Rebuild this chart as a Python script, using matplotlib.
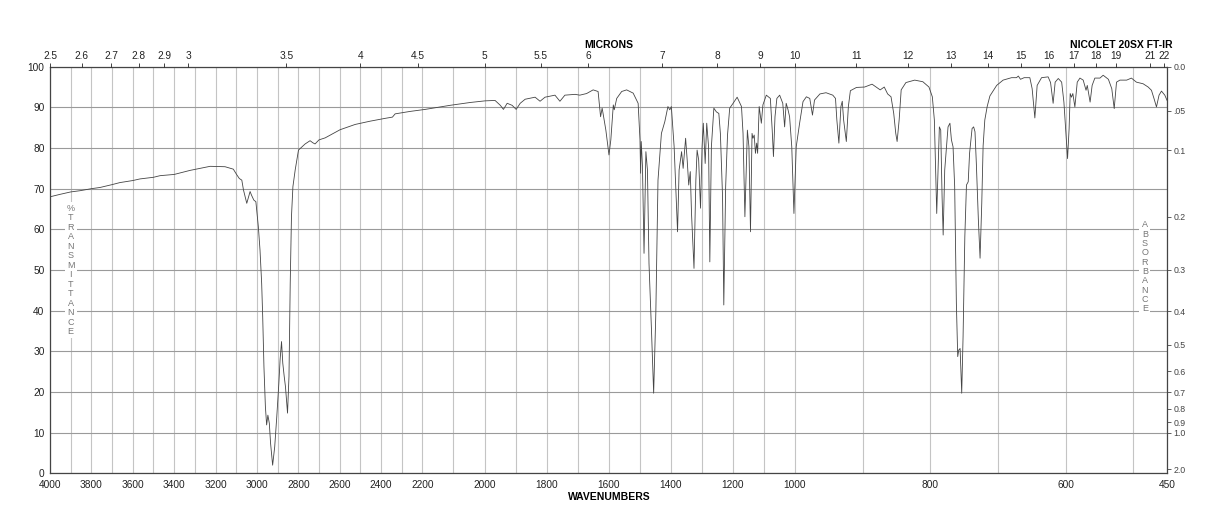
import numpy as np
import matplotlib
matplotlib.use("Agg")
import matplotlib.pyplot as plt

# Spektrum adatai (hullámszám cm-1, transzmittancia %)
wavenumbers = [
    4000, 3952, 3900, 3855, 3800, 3758, 3700, 3662, 3600, 3565, 3500, 3468, 3400, 3323, 3275, 3226,
    3154, 3114, 3097, 3085, 3073, 3065, 3049, 3033, 3026, 3015, 3005, 2993, 2985, 2977, 2972, 2966,
    2959, 2953, 2947, 2940, 2934, 2924, 2914, 2904, 2894, 2888, 2881, 2875, 2868, 2862, 2852, 2845,
    2839, 2833, 2826, 2815, 2799, 2767, 2743, 2730, 2719, 2700, 2670, 2598, 2525, 2453, 2380, 2345,
    2332, 2260, 2191, 2111, 2046, 1998, 1966, 1949, 1939, 1927, 1911, 1898, 1885, 1869, 1837, 1821,
    1805, 1773, 1757, 1741, 1708, 1693, 1671, 1650, 1634, 1626, 1621, 1618, 1609, 1599, 1593, 1585,
    1582, 1574, 1558, 1542, 1521, 1505, 1499, 1497, 1495, 1491, 1486, 1480, 1475, 1470, 1462, 1455,
    1448, 1441, 1430, 1419, 1409, 1403, 1398, 1389, 1378, 1373, 1365, 1360, 1352, 1347, 1342, 1337,
    1333, 1325, 1319, 1315, 1310, 1304, 1299, 1295, 1289, 1284, 1278, 1274, 1269, 1261, 1253, 1245,
    1240, 1233, 1229, 1223, 1217, 1210, 1199, 1186, 1172, 1167, 1161, 1153, 1148, 1143, 1138, 1135,
    1131, 1127, 1123, 1120, 1115, 1112, 1108, 1103, 1092, 1079, 1073, 1069, 1064, 1058, 1049, 1039,
    1033, 1028, 1022, 1017, 1010, 1003, 998, 993, 988, 983, 978, 974, 971, 963, 954, 944,
    940, 938, 935, 932, 930, 928, 924, 921, 918, 909, 897, 886, 879, 874, 868, 863,
    858, 854, 851, 849, 846, 843, 836, 823, 811, 802, 797, 794, 792.4, 790.5, 788.6, 786.6,
    784.6, 782.6, 781, 778.7, 776, 773.8, 771, 768.8, 766.4, 764, 761.5, 759.5, 758, 756, 753.6, 751.6,
    749, 746.6, 744, 742, 738.3, 736, 734, 732, 729, 726.5, 724, 722, 719.5, 716, 712, 702,
    692.5, 680, 672.7, 670, 666.8, 661.4, 653, 649.6, 645.6, 642.2, 635.7, 626, 622.4, 618.6, 615.6, 611,
    606, 602.7, 600.2, 597.3, 595, 593.4, 591.5, 589.5, 586.5, 583, 579, 574.2, 570, 568.2, 564, 561,
    557, 549.5, 544.7, 537, 532, 528.4, 525, 520, 510, 503, 495.6, 485.7, 478.3, 473.4, 469.5, 466,
    462.2, 458.6, 453.7, 450.3,
]
transmittance = [
    68.0, 68.6, 69.2, 69.5, 70.0, 70.3, 71.0, 71.5, 72.0, 72.4, 72.8, 73.2, 73.5, 74.5, 75.0, 75.5,
    75.4, 74.8, 73.4, 72.5, 72.1, 69.7, 66.4, 69.3, 68.4, 67.2, 66.8, 60.6, 54.9, 46.7, 38.5, 26.2,
    16.4, 11.9, 14.3, 12.3, 7.4, 2.0, 6.5, 13.9, 22.1, 27.9, 32.4, 27.1, 23.8, 21.3, 14.8, 23.8,
    46.7, 63.1, 70.5, 74.6, 79.5, 81.0, 81.8, 81.3, 81.0, 82.0, 82.5, 84.5, 85.8, 86.6, 87.3, 87.6,
    88.4, 89.0, 89.5, 90.5, 91.2, 91.6, 91.7, 90.5, 89.5, 91.0, 90.5, 89.5, 91.0, 92.0, 92.5, 91.5,
    92.5, 93.0, 91.5, 93.0, 93.2, 93.0, 93.4, 94.3, 93.9, 87.7, 89.8, 88.5, 84.4, 78.3, 82.0, 90.6,
    89.4, 92.2, 93.9, 94.3, 93.5, 91.0, 82.0, 73.8, 81.6, 75.4, 54.1, 79.1, 74.6, 51.6, 35.2, 19.7,
    39.4, 72.1, 83.6, 86.5, 90.2, 89.4, 90.2, 80.3, 59.4, 74.6, 79.1, 75.0, 82.4, 77.1, 70.9, 74.2,
    63.9, 50.4, 72.1, 79.5, 77.1, 65.2, 80.3, 86.1, 76.2, 86.1, 80.3, 52.0, 80.3, 89.8, 88.9, 88.5,
    83.6, 68.0, 41.4, 70.5, 83.2, 89.8, 91.0, 92.5, 90.2, 83.6, 63.1, 84.4, 80.3, 59.4, 83.6, 82.4,
    83.2, 78.7, 81.2, 78.7, 90.2, 88.5, 86.1, 90.6, 93.0, 92.2, 84.4, 77.9, 87.7, 92.2, 93.0, 91.0,
    85.2, 91.0, 89.4, 87.7, 80.3, 63.9, 80.3, 86.1, 91.4, 92.6, 92.2, 88.1, 91.8, 93.3, 93.6, 93.0,
    92.2, 86.9, 81.2, 90.2, 91.5, 86.9, 81.6, 90.2, 94.1, 94.9, 95.0, 95.7, 94.9, 94.3, 95.0, 93.3,
    92.6, 88.5, 83.6, 81.6, 86.9, 94.3, 96.1, 96.7, 96.3, 95.0, 92.6, 86.9, 76.2, 63.9, 74.6, 85.2,
    84.4, 68.0, 58.6, 74.6, 80.3, 85.2, 86.1, 82.0, 80.3, 70.5, 41.8, 28.7, 30.3, 30.7, 19.7, 33.6,
    58.2, 70.9, 71.7, 78.7, 84.8, 85.2, 84.0, 76.2, 62.3, 52.9, 66.4, 80.5, 86.9, 90.2, 92.8, 95.4,
    96.7, 97.3, 97.3, 97.7, 96.9, 97.3, 97.3, 94.6, 87.4, 95.4, 97.3, 97.5, 96.1, 91.0, 96.2, 97.1,
    96.2, 91.3, 84.8, 77.4, 84.8, 93.4, 92.5, 93.4, 90.1, 96.2, 97.2, 96.7, 94.2, 95.4, 91.3, 95.4,
    97.2, 97.2, 97.9, 96.9, 94.6, 89.7, 96.2, 96.7, 96.7, 97.2, 96.2, 95.8, 95.0, 94.2, 92.1, 90.1,
    93.0, 94.0, 93.0, 91.7,
]

# Tengelyfeliratok
wn_labels = [4000, 3800, 3600, 3400, 3200, 3000, 2800, 2600, 2400, 2200, 2000,
             1800, 1600, 1400, 1200, 1000, 800, 600, 450]
micron_labels = ["2.5", "2.6", "2.7", "2.8", "2.9", "3", "3.5", "4", "4.5", "5", "5.5", "6",
                 "7", "8", "9", "10", "11", "12", "13", "14", "15", "16", "17", "18", "19", "21", "22"]
absorbance_labels = ["0.0", ".05", "0.1", "0.2", "0.3", "0.4", "0.5", "0.6", "0.7",
                     "0.8", "0.9", "1.0", "2.0"]


# Szakaszosan lineáris hullámszám skála (4000-2200, 2200-1000, 1000-450 egyenlő harmadok)
def wn_to_pos(w):
    w = np.asarray(w, float)
    return np.where(w >= 2200, 2 + (w - 2200) / 1800,
                    np.where(w >= 1000, 1 + (w - 1000) / 1200, (w - 450) / 550))


def pos_to_wn(p):
    p = np.asarray(p, float)
    return np.where(p >= 2, 2200 + (p - 2) * 1800,
                    np.where(p >= 1, 1000 + (p - 1) * 1200, 450 + p * 550))


font = ["Liberation Sans", "DejaVu Sans"]
plt.rcParams["font.family"] = font

fig = plt.figure(figsize=(12.18, 5.28), dpi=100)
ax = fig.add_axes([50 / 1218, 1 - 473.3 / 528, 1117.3 / 1218, 406.6 / 528])

ax.set_xscale("function", functions=(wn_to_pos, pos_to_wn))
ax.plot(wavenumbers, transmittance, color="#444444", lw=0.6)
ax.set_xlim(4000, 450)
ax.set_ylim(0, 100)

# Rácsvonalak
ax.set_xticks(wn_labels)
ax.set_xticklabels([str(v) for v in wn_labels])
ax.set_xticks(list(range(3900, 499, -100)), minor=True)
ax.set_yticks(range(0, 101, 10))
ax.grid(axis="x", which="both", color="#c4c4c4", lw=0.8)
ax.grid(axis="y", color="#9a9a9a", lw=0.8)
ax.set_axisbelow(True)
ax.tick_params(axis="x", which="both", length=0, pad=5, labelsize=7.3, colors="#222222")
ax.tick_params(axis="y", length=0, pad=4, labelsize=7.3, colors="#222222")
for s in ax.spines.values():
    s.set_color("#444444")
    s.set_linewidth(0.9)

# Felső tengely: mikron
top = ax.twiny()
top.set_xscale("function", functions=(wn_to_pos, pos_to_wn))
top.set_xlim(4000, 450)
top.set_xticks([1e4 / float(m) for m in micron_labels])
top.set_xticklabels(micron_labels)
top.tick_params(axis="x", length=3, width=0.6, pad=1, labelsize=7.3, colors="#222222")
for s in top.spines.values():
    s.set_visible(False)

# Jobb tengely: abszorbancia
right = ax.twinx()
right.set_ylim(0, 100)
right.set_yticks([100 * 10 ** (-float(a)) for a in absorbance_labels])
right.set_yticklabels(absorbance_labels)
right.tick_params(axis="y", length=3, width=0.6, pad=1.5, labelsize=6.3, colors="#444444")
for s in right.spines.values():
    s.set_visible(False)

# Függőleges feliratok
box = dict(facecolor="white", edgecolor="none", pad=1.5)
ax.text(3900, 50, "\n".join("%TRANSMITTANCE"), ha="center", va="center", fontsize=6.5,
        linespacing=1.07, color="#777777", bbox=box)
ax.text(483, 50.8, "\n".join("ABSORBANCE"), ha="center", va="center", fontsize=6.5,
        linespacing=1.05, color="#777777", bbox=box)

fig.text(609 / 1218, 1 - 45 / 528, "MICRONS", ha="center", va="center", fontsize=7.5, fontweight="bold")
fig.text(1120.8 / 1218, 1 - 45 / 528, "NICOLET 20SX FT-IR", ha="center", va="center",
         fontsize=7.5, fontweight="bold")
fig.text(609 / 1218, 1 - 496.7 / 528, "WAVENUMBERS", ha="center", va="center", fontsize=7.5,
         fontweight="bold")

fig.savefig("out.png", dpi=100)
